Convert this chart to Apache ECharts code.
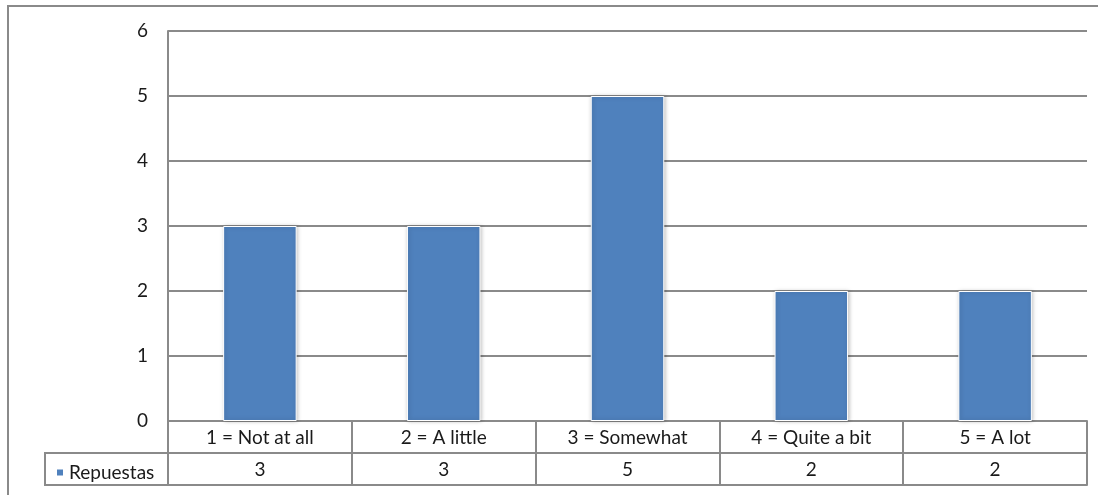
<!DOCTYPE html>
<html>
<head>
<meta charset="utf-8">
<script src="https://cdn.jsdelivr.net/npm/echarts@6/dist/echarts.min.js"></script>
<style>
  html, body { margin: 0; padding: 0; background: #fff; }
  #chart { width: 1098px; height: 495px; }
</style>
</head>
<body>
<div id="chart"></div>
<script>
// Survey answers: how many people chose each level
const categories = ['1 = Not at all', '2 = A little', '3 = Somewhat', '4 = Quite a bit', '5 = A lot'];
const values = [3, 3, 5, 2, 2];
const seriesName = 'Repuestas';
const yTicks = [0, 1, 2, 3, 4, 5, 6];

const lineGray = '#8a8a8a';
const textColor = '#1a1a1a';
const font = 'Lato, "Open Sans", sans-serif';
const fontSize = 19;

const chart = echarts.init(document.getElementById('chart'));

chart.setOption({
  animation: false,
  grid: { left: 168, right: 11, top: 31, bottom: 74, containLabel: false },
  legend: {
    data: [seriesName],
    left: 50, top: 458, padding: 5,
    icon: 'rect', itemWidth: 8, itemHeight: 8, itemGap: 6,
    textStyle: { fontFamily: font, fontSize: fontSize, color: textColor }
  },
  xAxis: [
    {
      // first table row: category names; ticks draw the cell dividers
      type: 'category', data: categories, position: 'bottom',
      axisLine: { show: true, lineStyle: { color: lineGray, width: 2 } },
      axisTick: { show: true, inside: false, length: 64, interval: 0, lineStyle: { color: lineGray, width: 2 } },
      axisLabel: { margin: 7, fontFamily: font, fontSize: fontSize, color: textColor, lineHeight: fontSize, interval: 0 }
    },
    {
      // second table row: the values
      type: 'category', data: categories, position: 'bottom', offset: 32,
      axisLine: { show: true, lineStyle: { color: lineGray, width: 2 } },
      axisTick: { show: false },
      axisLabel: {
        margin: 7, fontFamily: font, fontSize: fontSize, color: textColor, lineHeight: fontSize, interval: 0,
        formatter: (v, i) => String(values[i])
      }
    },
    {
      // bottom edge of the table
      type: 'category', data: categories, position: 'bottom', offset: 64,
      axisLine: { show: true, lineStyle: { color: lineGray, width: 2 } },
      axisTick: { show: false }, axisLabel: { show: false }
    }
  ],
  yAxis: {
    type: 'value', min: yTicks[0], max: yTicks[yTicks.length - 1], interval: 1,
    axisLine: { show: true, lineStyle: { color: lineGray, width: 2 } },
    axisTick: { show: false },
    splitLine: { show: true, lineStyle: { color: lineGray, width: 2 } },
    axisLabel: { margin: 20, fontFamily: font, fontSize: fontSize, color: textColor }
  },
  series: [{
    name: seriesName, type: 'bar', xAxisIndex: 0, data: values, barWidth: '40%',
    itemStyle: {
      color: '#4f81bd', borderColor: '#ffffff', borderWidth: 1,
      shadowBlur: 4, shadowColor: 'rgba(0,0,0,0.25)', shadowOffsetX: 1
    }
  }],
  graphic: [
    {
      // outer chart border
      type: 'rect', silent: true, z: -1,
      shape: { x: 8, y: 6, width: 1100, height: 500 },
      style: { fill: 'none', stroke: lineGray, lineWidth: 2 }
    },
    {
      // legend key cell of the data table
      type: 'rect', silent: true,
      shape: { x: 45, y: 453, width: 123, height: 32 },
      style: { fill: 'none', stroke: lineGray, lineWidth: 2 }
    }
  ]
});
</script>
</body>
</html>
